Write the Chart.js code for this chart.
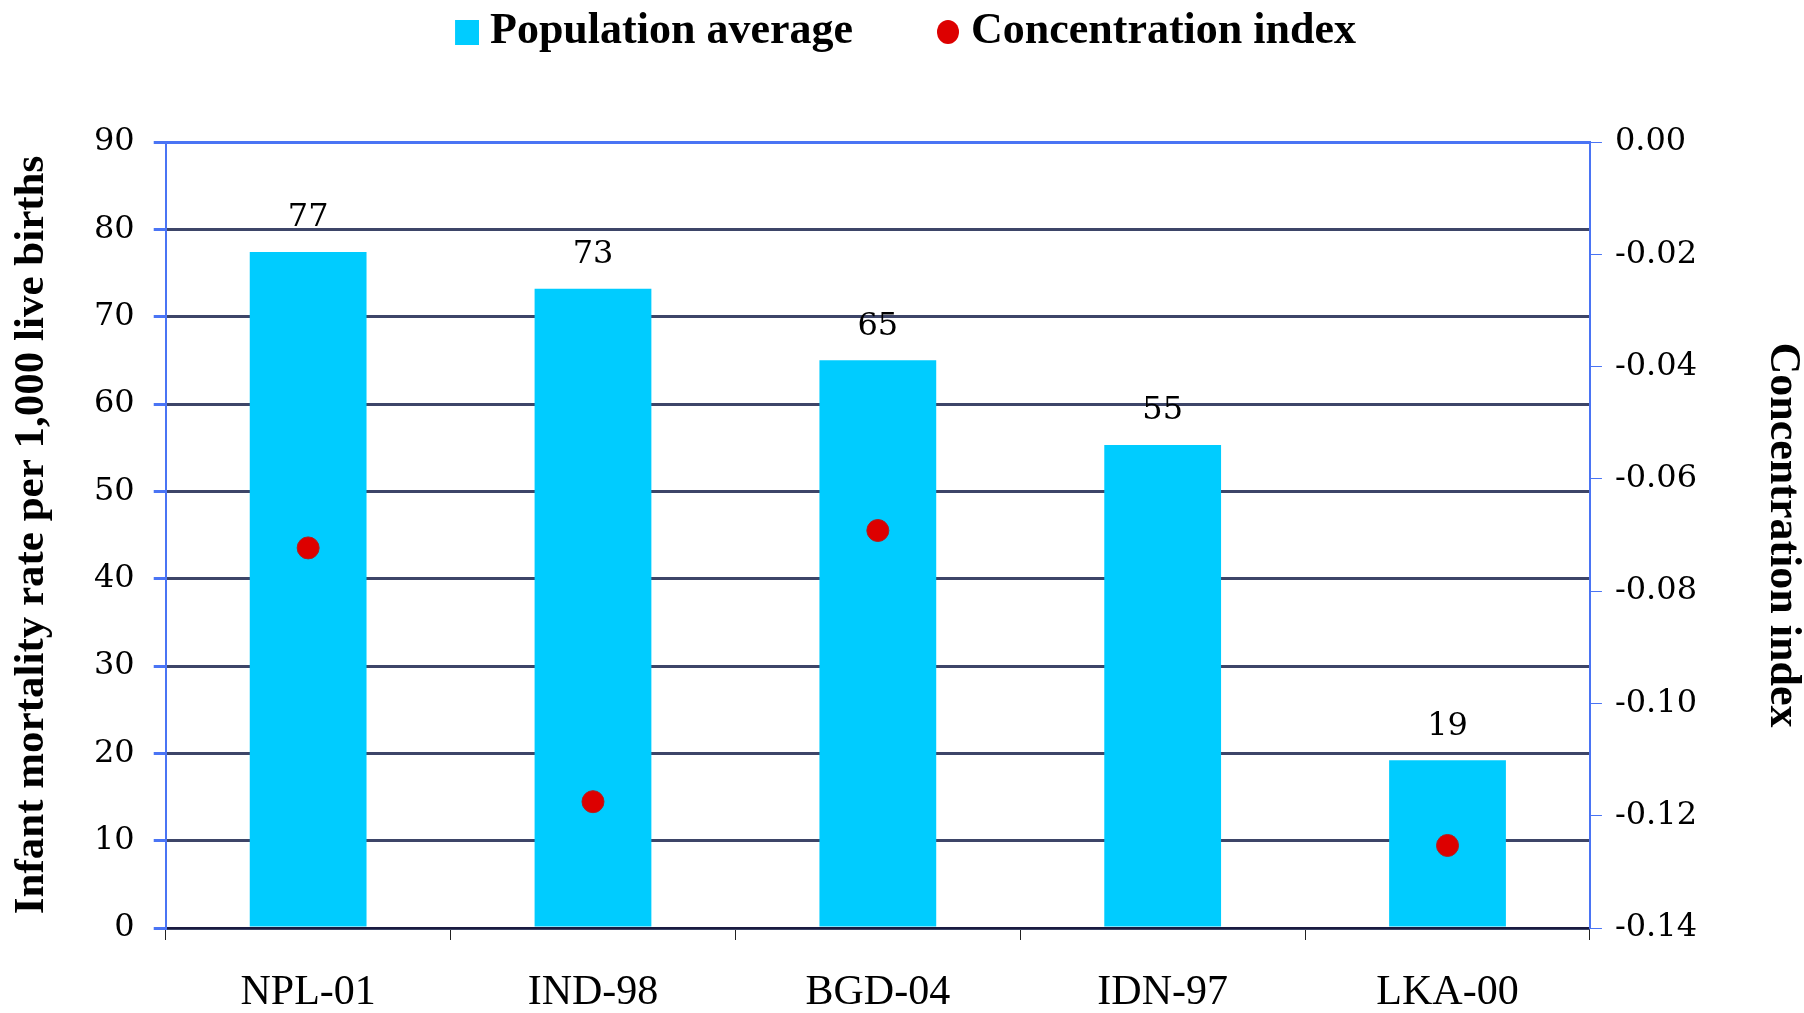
<!DOCTYPE html>
<html>
<head>
<meta charset="utf-8">
<script src="https://cdn.jsdelivr.net/npm/chart.js@4"></script>
<style>
  body{margin:0;background:#fff;}
  canvas{display:block;}
</style>
</head>
<body>
<canvas id="chart" width="1804" height="1013"></canvas>
<script>
// data
const categories = ['NPL-01', 'IND-98', 'BGD-04', 'IDN-97', 'LKA-00'];
const popAverage = [77.4, 73.2, 65.0, 55.3, 19.2];
const concIndex = [-0.0723, -0.1175, -0.0692, null, -0.1253];
const leftTicks = [0, 90, 10];
const rightTicks = [-0.14, 0, 0.02];

const barColor = '#00CCFF', dotColor = '#DD0000';
const axisBlue = '#4a74f4', gridDark = '#3d4568';
const tickFont = {family: '"DejaVu Serif"', size: 32};

// legend markers: drawn into small canvases, set at the right end
const boxW = 86;
function marker(kind){
  let c = document.createElement('canvas');
  c.width = boxW + 22; c.height = 26;
  let g = c.getContext('2d');
  if(kind=='rect'){ g.fillStyle = barColor; g.fillRect(c.width-24, 1, 24, 25); }
  else { g.fillStyle = dotColor; g.beginPath(); g.ellipse(c.width-12, 13, 11, 12, 0, 0, Math.PI*2); g.fill(); }
  return c;
}
const legendMarks = [marker('rect'), marker('circle')];

// value labels above bars
const barLabels = {
  id: 'barLabels',
  afterDatasetsDraw(chart){
    let ctx = chart.ctx, meta = chart.getDatasetMeta(1);
    ctx.save();
    ctx.font = '32px "DejaVu Serif"';
    ctx.fillStyle = '#000';
    ctx.textAlign = 'center'; ctx.textBaseline = 'middle';
    meta.data.forEach((bar, i) => ctx.fillText(Math.round(popAverage[i]), bar.x, bar.y - 34));
    ctx.restore();
  }
};

// space between legend and plot
const legendGap = {
  id: 'legendGap',
  beforeInit(chart){
    const fit = chart.legend.fit;
    chart.legend.fit = function(){ fit.bind(chart.legend)(); this.height += 78; };
  }
};

new Chart(document.getElementById('chart'), {
  data: {
    labels: categories,
    datasets: [
      {type: 'line', label: 'Concentration index', data: concIndex, yAxisID: 'y2', showLine: false,
       pointRadius: 11, pointHoverRadius: 11, pointBackgroundColor: dotColor, pointBorderColor: '#b02020',
       pointBorderWidth: 1, order: 0},
      {type: 'bar', label: 'Population average', data: popAverage, yAxisID: 'y', backgroundColor: barColor,
       categoryPercentage: 0.82, barPercentage: 0.5, order: 1}
    ]
  },
  options: {
    responsive: false,
    animation: false,
    layout: {padding: {top: 0, left: 0, right: 0, bottom: -33}},
    plugins: {
      tooltip: {enabled: false},
      legend: {
        position: 'top',
        labels: {
          usePointStyle: true, pointStyleWidth: boxW, boxWidth: boxW, boxHeight: 26, padding: 10, color: '#000',
          font: {family: '"Liberation Serif"', size: 44, weight: 'bold'},
          generateLabels: () => [
            {text: 'Population average', pointStyle: legendMarks[0], fillStyle: barColor, lineWidth: 0, datasetIndex: 1},
            {text: 'Concentration index      ', pointStyle: legendMarks[1], fillStyle: dotColor, lineWidth: 0, datasetIndex: 0}
          ]
        }
      }
    },
    scales: {
      x: {
        offset: true,
        grid: {offset: true, drawOnChartArea: false, color: '#222', tickLength: 12, lineWidth: 1},
        border: {color: '#1a1a40', width: 2},
        ticks: {color: '#000', padding: 32, font: {family: '"Liberation Serif"', size: 42, lineHeight: 1}}
      },
      y: {
        position: 'left',
        min: leftTicks[0], max: leftTicks[1],
        ticks: {stepSize: leftTicks[2], color: '#000', padding: 19, font: tickFont},
        grid: {
          color: c => c.tick && c.tick.value == leftTicks[1] ? axisBlue : gridDark,
          lineWidth: 3, tickColor: axisBlue, tickLength: 12
        },
        border: {color: axisBlue, width: 2},
        title: {display: true, text: 'Infant mortality rate per 1,000 live births', color: '#000',
                padding: {top: 10, bottom: 22}, font: {family: '"Liberation Serif"', size: 43, weight: 'bold', lineHeight: 1}}
      },
      y2: {
        position: 'right',
        min: rightTicks[0], max: rightTicks[1],
        ticks: {stepSize: rightTicks[2], color: '#000', padding: 13, font: tickFont,
                callback: v => v.toFixed(2)},
        grid: {drawOnChartArea: false, tickColor: axisBlue, tickLength: 12, lineWidth: 1},
        border: {color: axisBlue, width: 2},
        title: {display: true, text: 'Concentration index', color: '#000',
                padding: {top: 0, bottom: 50}, font: {family: '"Liberation Serif"', size: 44, weight: 'bold', lineHeight: 1}}
      }
    }
  },
  plugins: [barLabels, legendGap]
});
</script>
</body>
</html>
